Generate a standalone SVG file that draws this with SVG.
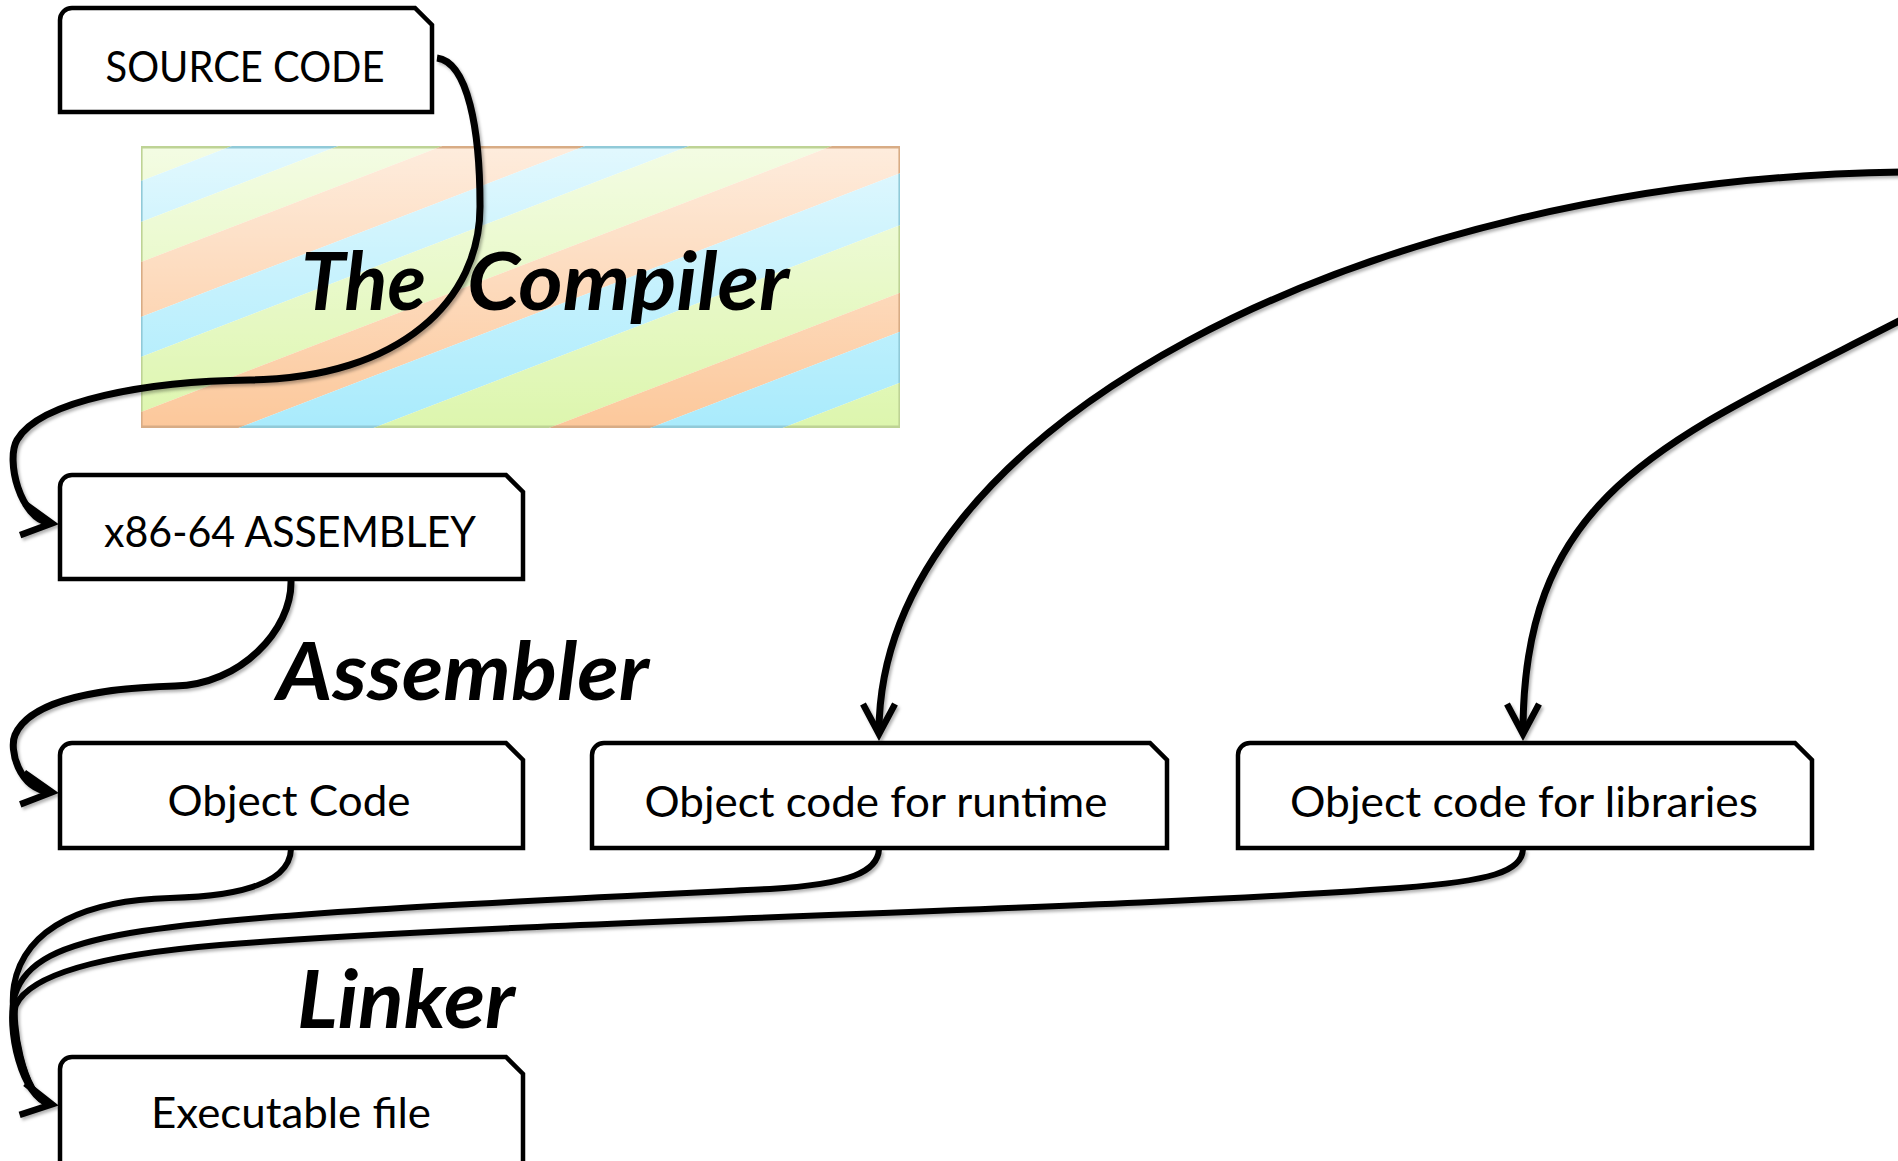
<svg xmlns="http://www.w3.org/2000/svg" width="1898" height="1161" viewBox="0 0 1898 1161">
  <style>
    .box { fill: #ffffff; stroke: #000000; stroke-width: 4.5; stroke-linejoin: miter; }
    .label { font-family: Lato, "Open Sans", "Liberation Sans", sans-serif; font-size: 42px; fill: #000000; text-anchor: middle; }
    .stage { font-family: Lato, "Open Sans", "Liberation Sans", sans-serif; font-size: 80px; font-weight: bold; font-style: italic; fill: #000000; }
    .wire { fill: none; stroke: #000000; stroke-width: 7; stroke-linecap: butt; stroke-linejoin: round; }
    .wire.arrow { marker-end: url(#vhead); }
    .wire.thin { stroke-width: 6; }
    .sb { fill: #a9ebfc; }
    .sg { fill: #ddf6ae; }
    .so { fill: #fcc89b; }
  </style>
  <defs>
    <clipPath id="panelClip">
      <rect x="141" y="147" width="759" height="280"/>
    </clipPath>
    <clipPath id="panelFrame">
      <path clip-rule="evenodd" d="M140,146 H901 V428 H140 Z M142.6,148.6 V425.4 H898.4 V148.6 Z"/>
    </clipPath>
    <!-- diagonal candy stripes of the compiler panel -->
    <g id="bands">
      <polygon class="sg" points="141,-200 900,-492.2 900,-111.2 141,181"/>
      <polygon class="sb" points="141,181 900,-111.2 900,-70.2 141,222"/>
      <polygon class="sg" points="141,222 900,-70.2 900,-30.2 141,262"/>
      <polygon class="so" points="141,262 900,-30.2 900,24.8 141,317"/>
      <polygon class="sb" points="141,317 900,24.8 900,64.8 141,357"/>
      <polygon class="sg" points="141,357 900,64.8 900,119.8 141,412"/>
      <polygon class="so" points="141,412 900,119.8 900,173.3 141,465.5"/>
      <polygon class="sb" points="141,465.5 900,173.3 900,225.3 141,517.5"/>
      <polygon class="sg" points="141,517.5 900,225.3 900,292.8 141,585"/>
      <polygon class="so" points="141,585 900,292.8 900,331.8 141,624"/>
      <polygon class="sb" points="141,624 900,331.8 900,382.8 141,675"/>
      <polygon class="sg" points="141,675 900,382.8 900,607.8 141,900"/>
    </g>
    <linearGradient id="wash" x1="0" y1="0" x2="0" y2="1">
      <stop offset="0" stop-color="#ffffff" stop-opacity="0.66"/>
      <stop offset="1" stop-color="#ffffff" stop-opacity="0"/>
    </linearGradient>
    <filter id="deepen" color-interpolation-filters="sRGB">
      <feComponentTransfer>
        <feFuncR type="linear" slope="0.86"/>
        <feFuncG type="linear" slope="0.86"/>
        <feFuncB type="linear" slope="0.86"/>
      </feComponentTransfer>
    </filter>
    <filter id="soft" x="-5%" y="-5%" width="110%" height="110%">
      <feDropShadow dx="2" dy="2.5" stdDeviation="1.6" flood-color="#000000" flood-opacity="0.3"/>
    </filter>
    <!-- open V arrowhead -->
    <marker id="vhead" markerUnits="userSpaceOnUse" viewBox="-40 -24 56 48" markerWidth="56" markerHeight="48" refX="0" refY="0" orient="auto" overflow="visible">
      <path d="M -28 -16 L 2 0 L -28 16" fill="none" stroke="#000000" stroke-width="6.5" stroke-linejoin="miter" stroke-miterlimit="10"/>
    </marker>
  </defs>

  <rect x="0" y="0" width="1898" height="1161" fill="#ffffff"/>

  <!-- compiler stage panel -->
  <g id="compiler">
    <g clip-path="url(#panelClip)">
      <use href="#bands"/>
      <rect x="141" y="147" width="759" height="280" fill="url(#wash)"/>
    </g>
    <g clip-path="url(#panelFrame)">
      <use href="#bands" filter="url(#deepen)"/>
    </g>
    <text class="stage" y="310"><tspan x="301" textLength="125" lengthAdjust="spacingAndGlyphs">The</tspan><tspan x="467" textLength="322" lengthAdjust="spacingAndGlyphs">Compiler</tspan></text>
  </g>

  <g id="assembler-label">
    <text class="stage" x="277" y="700" textLength="372" lengthAdjust="spacingAndGlyphs">Assembler</text>
  </g>

  <g id="linker-label">
    <text class="stage" x="297" y="1028" textLength="218" lengthAdjust="spacingAndGlyphs">Linker</text>
  </g>

  <g id="source-code">
    <path class="box" d="M60,112 L60,20 A12,12 0 0 1 72,8 L415,8 L432,25 L432,112 Z"/>
    <text class="label" x="245" y="82" textLength="279" lengthAdjust="spacingAndGlyphs">SOURCE CODE</text>
  </g>

  <g id="assembly">
    <path class="box" d="M60,579 L60,487 A12,12 0 0 1 72,475 L506,475 L523,492 L523,579 Z"/>
    <text class="label" x="290" y="547" textLength="372" lengthAdjust="spacingAndGlyphs">x86-64 ASSEMBLEY</text>
  </g>

  <g id="object-code">
    <path class="box" d="M60,848 L60,755 A12,12 0 0 1 72,743 L506,743 L523,760 L523,848 Z"/>
    <text class="label" x="289" y="816" textLength="243" lengthAdjust="spacingAndGlyphs">Object Code</text>
  </g>

  <g id="runtime-object">
    <path class="box" d="M592,848 L592,755 A12,12 0 0 1 604,743 L1150,743 L1167,760 L1167,848 Z"/>
    <text class="label" x="876" y="817" textLength="463" lengthAdjust="spacingAndGlyphs">Object code for runtime</text>
  </g>

  <g id="library-object">
    <path class="box" d="M1238,848 L1238,755 A12,12 0 0 1 1250,743 L1795,743 L1812,760 L1812,848 Z"/>
    <text class="label" x="1524" y="817" textLength="468" lengthAdjust="spacingAndGlyphs">Object code for libraries</text>
  </g>

  <g id="executable">
    <path class="box" d="M60,1200 L60,1069 A12,12 0 0 1 72,1057 L506,1057 L523,1074 L523,1200 Z"/>
    <text class="label" x="291" y="1128" textLength="280" lengthAdjust="spacingAndGlyphs">Executable file</text>
  </g>

  <!-- connectors -->
  <g id="connectors" filter="url(#soft)">
    <path class="wire arrow" d="M437,58 C468,62 480,130 480,205 C481,300 400,378 250,380 C150,381 40,400 17,440 C5.5,460 20,519 50,523"/>
    <path class="wire arrow" d="M291,581 C292,630 240,685 175,686 C100,688 30,700 15,735 C9,749 18,788 50,792"/>
    <path class="wire arrow" d="M1905,172 C1360,178 879,430 879,732"/>
    <path class="wire arrow" d="M1905,318 C1668,440 1523,489 1523,732"/>
    <path class="wire thin arrow" d="M291,849 C290,880 250,896 170,898 C90,900 25,925 14,985 C8.5,1015 22,1099 50,1104"/>
    <path class="wire thin" d="M879,849 C878,872 850,884 770,889 C500,902 250,913 130,933 C60,945 25,962 15,995 C5,1028 22,1099 50,1104"/>
    <path class="wire thin" d="M1523,849 C1522,872 1490,881 1400,888 C1100,910 500,922 220,945 C100,955 30,975 16,1005 C11,1016 22,1099 50,1104"/>
  </g>
</svg>
